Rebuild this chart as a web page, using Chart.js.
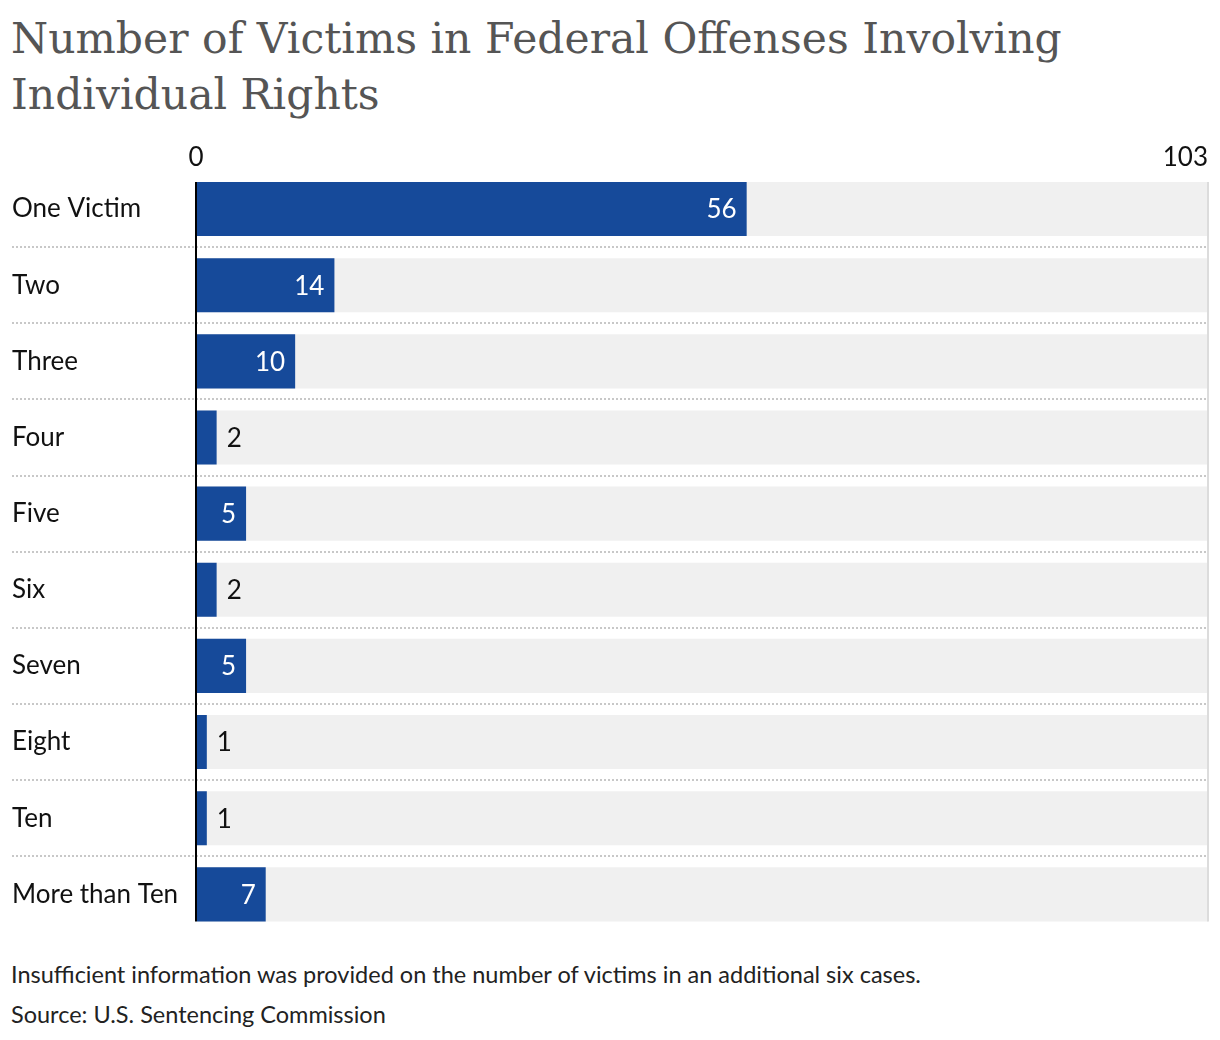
<!DOCTYPE html>
<html>
<head>
<meta charset="utf-8">
<script src="https://cdn.jsdelivr.net/npm/chart.js@4"></script>
<style>
  body { margin: 0; background: #fff; width: 1220px; height: 1040px; position: relative; overflow: hidden; }
  #title { position: absolute; left: 11px; top: 11px; margin: 0; font-family: "DejaVu Serif", serif; font-weight: normal; font-size: 42.5px; line-height: 56px; color: #555; }
  #wrap { position: absolute; left: 0; top: 130px; width: 1220px; height: 821px; }
  .note { position: absolute; left: 11px; font-family: Lato, sans-serif; font-size: 23.5px; color: #222; }
</style>
</head>
<body>
<h1 id="title">Number of Victims in Federal Offenses Involving<br>Individual Rights</h1>
<div id="wrap"><canvas id="chart"></canvas></div>
<div class="note" style="top:960px">Insufficient information was provided on the number of victims in an additional six cases.</div>
<div class="note" style="top:1000px">Source: U.S. Sentencing Commission</div>
<script>
// Data
const categories = ['One Victim', 'Two', 'Three', 'Four', 'Five', 'Six', 'Seven', 'Eight', 'Ten', 'More than Ten'];
const victims = [56, 14, 10, 2, 5, 2, 5, 1, 1, 7];
const axisMax = 103;
const tickLabels = [0, 103];

const barColor = '#164a9a';
const trackColor = '#f0f0f0';

// draws separators, axis lines, tick labels and value labels
const decorPlugin = {
  id: 'decor',
  beforeDatasetsDraw(chart) {
    const ctx = chart.ctx;
    const y = chart.scales.y;
    ctx.save();
    ctx.strokeStyle = '#c8c8c8';
    ctx.lineWidth = 2;
    ctx.setLineDash([2, 2]);
    for (let i = 1; i < categories.length; i++) {
      const yy = Math.round((y.getPixelForValue(i - 1) + y.getPixelForValue(i)) / 2);
      ctx.beginPath();
      ctx.moveTo(12, yy);
      ctx.lineTo(chart.chartArea.right, yy);
      ctx.stroke();
    }
    ctx.restore();
  },
  afterDatasetsDraw(chart) {
    const ctx = chart.ctx;
    const x = chart.scales.x;
    const meta = chart.getDatasetMeta(1);
    const first = meta.data[0];
    const last = meta.data[meta.data.length - 1];
    const top = first.y - first.height / 2;
    const bottom = last.y + last.height / 2;
    ctx.save();
    // right edge line
    ctx.strokeStyle = '#dcdcdc';
    ctx.lineWidth = 2;
    ctx.beginPath();
    ctx.moveTo(x.getPixelForValue(axisMax), top);
    ctx.lineTo(x.getPixelForValue(axisMax), bottom);
    ctx.stroke();
    // zero line
    ctx.strokeStyle = '#000';
    ctx.beginPath();
    ctx.moveTo(x.getPixelForValue(0) - 1, top);
    ctx.lineTo(x.getPixelForValue(0) - 1, bottom);
    ctx.stroke();

    // tick labels
    ctx.font = '26px Lato, sans-serif';
    ctx.fillStyle = '#111';
    ctx.textBaseline = 'alphabetic';
    tickLabels.forEach(function (t, i) {
      ctx.textAlign = i === 0 ? 'center' : 'right';
      const px = x.getPixelForValue(t) + (i === 0 ? -1 : 0);
      ctx.fillText(String(t), px, 36);
    });

    // value labels
    ctx.textBaseline = 'middle';
    meta.data.forEach(function (bar, i) {
      const txt = String(victims[i]);
      const w = ctx.measureText(txt).width;
      const barW = bar.x - bar.base;
      if (barW > w + 20) {
        ctx.fillStyle = '#fff';
        ctx.textAlign = 'right';
        ctx.fillText(txt, bar.x - 10, bar.y + 1);
      } else {
        ctx.fillStyle = '#111';
        ctx.textAlign = 'left';
        ctx.fillText(txt, bar.x + 10, bar.y + 1);
      }
    });
    ctx.restore();
  }
};

new Chart(document.getElementById('chart'), {
  type: 'bar',
  data: {
    labels: categories,
    datasets: [
      {
        data: categories.map(function () { return axisMax; }),
        backgroundColor: trackColor,
        grouped: false,
        order: 2
      },
      {
        data: victims,
        backgroundColor: barColor,
        grouped: false,
        order: 1
      }
    ]
  },
  options: {
    indexAxis: 'y',
    responsive: true,
    maintainAspectRatio: false,
    animation: false,
    events: [],
    datasets: {
      bar: { categoryPercentage: 1, barPercentage: 54 / 76 }
    },
    layout: { padding: { left: 12, right: 12, top: 41, bottom: 9 } },
    scales: {
      x: { display: false, min: 0, max: axisMax },
      y: {
        grid: { display: false },
        border: { display: false },
        ticks: {
          crossAlign: 'far',
          color: '#111',
          font: { family: 'Lato, sans-serif', size: 26 }
        },
        afterFit: function (scale) { scale.width = 185; }
      }
    },
    plugins: {
      legend: { display: false },
      tooltip: { enabled: false }
    }
  },
  plugins: [decorPlugin]
});
</script>
</body>
</html>
